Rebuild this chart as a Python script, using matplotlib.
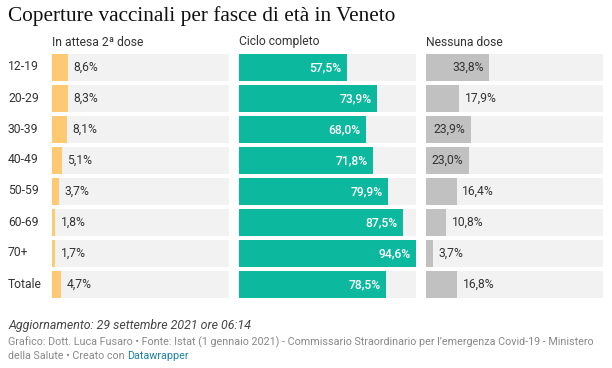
import matplotlib.pyplot as plt

# data
fasce = ['12-19', '20-29', '30-39', '40-49', '50-59', '60-69', '70+', 'Totale']
attesa_2dose = [8.6, 8.3, 8.1, 5.1, 3.7, 1.8, 1.7, 4.7]
ciclo_completo = [57.5, 73.9, 68.0, 71.8, 79.9, 87.5, 94.6, 78.5]
nessuna_dose = [33.8, 17.9, 23.9, 23.0, 16.4, 10.8, 3.7, 16.8]

titoli = ['In attesa 2ª dose', 'Ciclo completo', 'Nessuna dose']
colori = ['#fec973', '#0cb99e', '#c1c1c1']
serie = [attesa_2dose, ciclo_completo, nessuna_dose]

W, H = 612, 368
plt.rcParams['font.family'] = ['Roboto', 'DejaVu Sans']

fig = plt.figure(figsize=(W / 100, H / 100), dpi=100)
fig.patch.set_facecolor('white')

xmax = max(max(s) for s in serie)
lefts = [52, 239, 426]
pw = 177
top, bottom = 52, 300

for i in range(3):
    ax = fig.add_axes([lefts[i] / W, 1 - bottom / H, pw / W, (bottom - top) / H])
    y = range(len(fasce))
    ax.barh(y, [xmax] * len(fasce), height=27 / 31, color='#f2f2f2')
    ax.barh(y, serie[i], height=27 / 31, color=colori[i])
    for j, v in enumerate(serie[i]):
        txt = f'{v:.1f}%'.replace('.', ',')
        if v > 20:
            col = 'white' if i == 1 else '#333333'
            ax.annotate(txt, (v, j), xytext=(-4, 0), textcoords='offset points',
                        ha='right', va='center', fontsize=8.7, color=col,
                        fontweight='medium' if i == 1 else 'normal')
        else:
            ax.annotate(txt, (v, j), xytext=(4, 0), textcoords='offset points',
                        ha='left', va='center', fontsize=8.7, color='#333333')
    ax.set_xlim(0, xmax)
    ax.set_ylim(len(fasce) - 0.5, -0.5)
    ax.axis('off')
    fig.text(lefts[i] / W, 1 - 42 / H, titoli[i], ha='left', va='center',
             fontsize=8.7, color='#333333')

for j, f in enumerate(fasce):
    fig.text(8 / W, 1 - (67 + 31 * j) / H, f, ha='left', va='center',
             fontsize=8.7, color='#333333')

fig.text(8 / W, 1 - 16 / H, 'Coperture vaccinali per fasce di età in Veneto',
         family='Liberation Serif', fontsize=15.3, ha='left', va='center', color='#111111')

fig.text(8 / W, 1 - 325 / H, 'Aggiornamento: 29 settembre 2021 ore 06:14',
         style='italic', fontsize=8.9, ha='left', va='center', color='#444444')
fig.text(8 / W, 1 - 342 / H,
         'Grafico: Dott. Luca Fusaro • Fonte: Istat (1 gennaio 2021) - Commissario Straordinario '
         'per l’emergenza Covid-19 - Ministero',
         fontsize=7.75, ha='left', va='center', color='#888888')
t = fig.text(8 / W, 1 - 356 / H, 'della Salute • Creato con ', fontsize=7.75,
             ha='left', va='center', color='#888888')
fig.canvas.draw()
bb = t.get_window_extent()
fig.text(bb.x1 / W, 1 - 356 / H, 'Datawrapper', fontsize=7.75, ha='left', va='center',
         color='#1d81a2')

fig.savefig('out.png', dpi=100)
